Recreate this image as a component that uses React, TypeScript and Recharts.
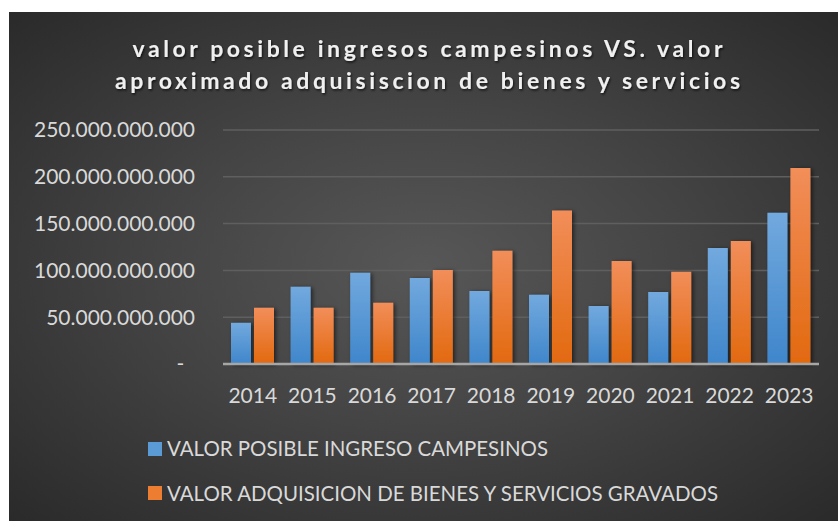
import { Bar, BarChart, CartesianGrid, Legend, XAxis, YAxis } from 'recharts';

const YEARS = ['2014', '2015', '2016', '2017', '2018', '2019', '2020', '2021', '2022', '2023'];
const INGRESO_CAMPESINOS = [44e9, 82.5e9, 97.5e9, 92e9, 78e9, 74e9, 62e9, 77e9, 124e9, 161.5e9];
const ADQUISICION_BIENES = [60e9, 60e9, 65.5e9, 100.5e9, 121e9, 164e9, 110e9, 98.5e9, 131.5e9, 209.5e9];
const Y_TICKS = [0, 50e9, 100e9, 150e9, 200e9, 250e9];
const SERIES_NAMES = ['VALOR POSIBLE INGRESO CAMPESINOS', 'VALOR ADQUISICION DE BIENES Y SERVICIOS GRAVADOS'];
const TITLE_LINES = ['valor posible ingresos campesinos VS. valor', 'aproximado adquisiscion de bienes y servicios'];

const data = YEARS.map((year, i) => ({
  year,
  ingreso: INGRESO_CAMPESINOS[i],
  adquisicion: ADQUISICION_BIENES[i],
}));

const FONT = 'Lato, "Open Sans", sans-serif';
const TEXT = '#d9d9d9';

const fmt = (v: number) => (v === 0 ? '-\u00a0\u00a0' : String(v).replace(/\B(?=(\d{3})+(?!\d))/g, '.'));

function LegendBox() {
  return (
    <svg width={829} height={107} style={{ display: 'block' }}>
      <rect x={139} y={28} width={14} height={14} fill="#5b9bd5" />
      <text x={158} y={42} fill={TEXT} fontFamily={FONT} fontSize={21} textLength={381} lengthAdjust="spacingAndGlyphs">
        {SERIES_NAMES[0]}
      </text>
      <rect x={139} y={72} width={14} height={14} fill="#ed7d31" />
      <text x={158} y={87} fill={TEXT} fontFamily={FONT} fontSize={21} textLength={551} lengthAdjust="spacingAndGlyphs">
        {SERIES_NAMES[1]}
      </text>
    </svg>
  );
}

export default function App() {
  return (
    <div
      style={{
        position: 'absolute',
        left: 9,
        top: 12,
        width: 829,
        height: 509,
        background: 'radial-gradient(ellipse at 50% 50%, #575757 0%, #444 45%, #2a2a2a 100%)',
      }}
    >
      <svg width={829} height={100} style={{ position: 'absolute', left: 0, top: 0 }}>
        <defs>
          <filter id="tshadow" x="-5%" y="-20%" width="110%" height="150%">
            <feDropShadow dx="1" dy="1.5" stdDeviation="1.2" floodColor="#000" floodOpacity="0.7" />
          </filter>
        </defs>
        <g filter="url(#tshadow)" fill="#f0f0f0" fontFamily={FONT} fontWeight="bold" fontSize={23}>
          <text x={418.5} y={45} textAnchor="middle" textLength={590} lengthAdjust="spacing">
            {TITLE_LINES[0]}
          </text>
          <text x={418.5} y={77} textAnchor="middle" textLength={625} lengthAdjust="spacing">
            {TITLE_LINES[1]}
          </text>
        </g>
      </svg>
      <BarChart
        width={829}
        height={509}
        data={data}
        margin={{ top: 118, right: 19, left: 0, bottom: 0 }}
        barGap={3}
        barSize={20}
      >
        <defs>
          <linearGradient id="gBlue" x1="0" y1="0" x2="0" y2="1">
            <stop offset="0%" stopColor="#72a9de" />
            <stop offset="100%" stopColor="#3f86cb" />
          </linearGradient>
          <linearGradient id="gOrange" x1="0" y1="0" x2="0" y2="1">
            <stop offset="0%" stopColor="#f28e5a" />
            <stop offset="100%" stopColor="#e2690f" />
          </linearGradient>
          <filter id="bshadow" x="-30%" y="-10%" width="170%" height="120%">
            <feDropShadow dx="2" dy="1" stdDeviation="2" floodColor="#000" floodOpacity="0.55" />
          </filter>
        </defs>
        <CartesianGrid vertical={false} stroke="#5f5f5f" strokeWidth={1.5} />
        <XAxis
          dataKey="year"
          height={50}
          tickSize={0}
          tickMargin={24}
          axisLine={{ stroke: '#a6a6a6', strokeWidth: 2.5 }}
          tick={{ fill: TEXT, fontSize: 21, fontFamily: FONT }}
        />
        <YAxis
          width={214}
          domain={[0, 250e9]}
          ticks={Y_TICKS}
          tickFormatter={fmt}
          tickSize={0}
          tickMargin={28}
          axisLine={false}
          tick={{ fill: TEXT, fontSize: 21, fontFamily: FONT }}
        />
        <Legend verticalAlign="bottom" content={<LegendBox />} wrapperStyle={{ left: 0, width: 829 }} />
        <Bar dataKey="ingreso" name={SERIES_NAMES[0]} fill="url(#gBlue)" filter="url(#bshadow)" isAnimationActive={false} />
        <Bar dataKey="adquisicion" name={SERIES_NAMES[1]} fill="url(#gOrange)" filter="url(#bshadow)" isAnimationActive={false} />
      </BarChart>
    </div>
  );
}
